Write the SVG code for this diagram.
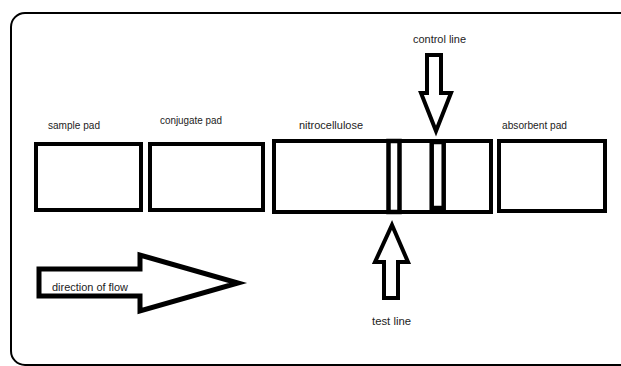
<svg xmlns="http://www.w3.org/2000/svg" width="621" height="366" viewBox="0 0 621 366">
  <style>
    .frame { fill: none; stroke: #000; stroke-width: 2; }
    .pad { fill: #fff; stroke: #000; stroke-width: 4; }
    .strip { fill: #fff; stroke: #000; stroke-width: 4.5; }
    .arrow { fill: #fff; stroke: #000; stroke-width: 4; stroke-linejoin: miter; }
    .label { font-family: "Liberation Sans", Arial, sans-serif; font-size: 11.5px; fill: #222; }
  </style>
  <rect width="621" height="366" fill="#fff"/>
  <!-- outer frame, running off the right edge -->
  <rect class="frame" x="11" y="13" width="640" height="352" rx="14" ry="14"/>

  <g id="sample-pad">
    <rect class="pad" x="36" y="144" width="105" height="66"/>
    <text class="label" x="48" y="129" textLength="52" lengthAdjust="spacingAndGlyphs">sample pad</text>
  </g>
  <g id="conjugate-pad">
    <rect class="pad" x="150" y="144" width="113" height="66"/>
    <text class="label" x="160" y="124" textLength="62" lengthAdjust="spacingAndGlyphs">conjugate pad</text>
  </g>
  <g id="nitrocellulose">
    <rect class="pad" x="274" y="141" width="217" height="71"/>
    <rect class="strip" x="388.5" y="141" width="11" height="71"/>
    <rect class="strip" x="431.7" y="142" width="12" height="66"/>
    <text class="label" x="299" y="129" textLength="64" lengthAdjust="spacingAndGlyphs">nitrocellulose</text>
  </g>
  <g id="absorbent-pad">
    <rect class="pad" x="499" y="141" width="106" height="70"/>
    <text class="label" x="502" y="129" textLength="65" lengthAdjust="spacingAndGlyphs">absorbent pad</text>
  </g>

  <g id="connectors">
    <g id="control-line">
      <polygon class="arrow" points="427,55 441,55 441,93 451,93 436,131 421,93 427,93"/>
      <text class="label" x="413" y="43" textLength="53" lengthAdjust="spacingAndGlyphs">control line</text>
    </g>
    <g id="test-line">
      <polygon class="arrow" points="392,225 408,262 398,262 398,298 384,298 384,262 375,262"/>
      <text class="label" x="372" y="325" textLength="39" lengthAdjust="spacingAndGlyphs">test line</text>
    </g>
    <g id="direction-of-flow">
      <polygon class="arrow" style="stroke-width:5" points="39,269 140,269 140,255 238,283 140,311 140,296 39,296"/>
      <text class="label" x="52" y="291" textLength="76" lengthAdjust="spacingAndGlyphs">direction of flow</text>
    </g>
  </g>
</svg>
